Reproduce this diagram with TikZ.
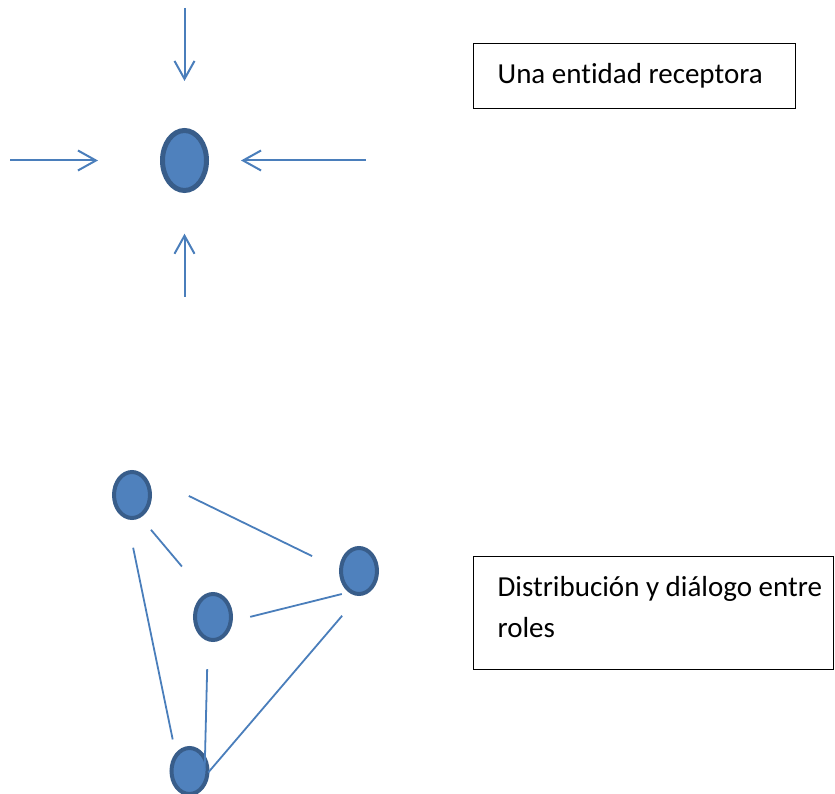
\documentclass[tikz,border=0pt]{standalone}
\usepackage{fontspec}
\setmainfont{Carlito}[Ligatures=NoCommon]
\usetikzlibrary{shapes.geometric,arrows.meta}
\definecolor{rolefill}{HTML}{4F81BD}
\definecolor{roleedge}{HTML}{385D8A}
\definecolor{linkblue}{HTML}{4A7EBB}

\begin{document}
\begin{tikzpicture}[x=1pt,y=-1pt,
  role/.style={draw=roleedge, fill=rolefill, line width=4pt, shape=ellipse, inner sep=0pt, minimum width=36pt, minimum height=46pt},
  link/.style={draw=linkblue, line width=1.8pt},
  incoming/.style={draw=linkblue, line width=2pt, -{Straight Barb[length=18pt,width=20pt]}},
  textbox/.style={draw, line width=1.3pt, anchor=north west, align=left, inner xsep=24pt, inner ysep=0pt, font=\fontsize{29}{41}\selectfont, execute at begin node={\spaceskip=0pt\xspaceskip=0pt}}]

\useasboundingbox (0,0) rectangle (835,794);

\node[role, line width=5pt, minimum width=44pt, minimum height=60pt] (receptor) at (184.5,160.5) {};

\coordinate (fromtop) at (184.5,8);
\coordinate (fromleft) at (10,160.5);
\coordinate (fromright) at (365.7,160.5);
\coordinate (frombottom) at (184.5,297);

\path (fromtop) edge[incoming, shorten >=47pt] (receptor);
\path (fromleft) edge[incoming, shorten >=62pt] (receptor);
\path (fromright) edge[incoming, shorten >=32pt] (receptor);
\path (frombottom) edge[incoming, shorten >=40.7pt] (receptor);

\node[textbox, text width=274pt, minimum height=65pt] (receptora) at (473,43) {Una entidad receptora};

\node[role] (role1) at (132,495) {};
\node[role] (role2) at (359,571) {};
\node[role] (role3) at (213,617) {};
\node[role] (role4) at (189.5,771) {};

\path (role1.70) edge[link, shorten <=54pt, shorten >=30pt] (role2.175);
\path (role1.291) edge[link, shorten <=16pt, shorten >=36pt] (role3.109);
\path (role1.259) edge[link, shorten <=29pt, shorten >=14pt] (role4.128);
\path (role3.348) edge[link, shorten <=18pt, shorten >=7pt] (role2.244);
\path (role3.258) edge[link, shorten <=28pt, shorten >=17pt] (role4.311);
\path (role2.south) edge[link, shorten <=26pt, shorten >=-2pt] (role4.east);

\node[textbox, text width=312pt, text depth=53pt, minimum height=113pt] (dialogo) at (473,556) {\mbox{Distribución y diálogo entre}\\roles};

\end{tikzpicture}
\end{document}
